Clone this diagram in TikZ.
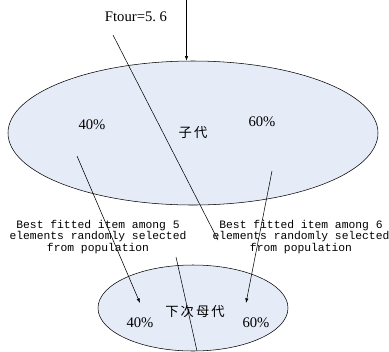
\documentclass[tikz,border=0pt]{standalone}
\usepackage{fontspec}
\setmainfont{Liberation Serif}
\setmonofont{Liberation Mono}
\newfontfamily\cjk[LetterSpace=15]{Noto Sans CJK SC}
\usetikzlibrary{shapes.geometric,arrows.meta}
\definecolor{paleblue}{HTML}{E6ECF7}
\tikzset{
  pool/.style={ellipse,draw,fill=paleblue,inner sep=0pt},
  rate/.style={font=\fontsize{11}{13}\selectfont},
  note/.style={align=center,inner sep=0pt,font=\ttfamily\fontsize{8.5}{8.7}\selectfont},
  pick/.style={-{Latex[length=3.5pt,width=2.5pt]}}
}

\begin{document}
\begin{tikzpicture}[x=0.75pt,y=-0.75pt]
        \useasboundingbox (0,0) rectangle (389,351);
        % populations
        \node[pool,minimum width=277.5pt,minimum height=108pt] (kid) at (193,133) {};
        \node[pool,minimum width=142.5pt,minimum height=64.5pt] (next) at (193,308) {};
        \node[font=\cjk\fontsize{10}{12}\selectfont] (kidlbl) at (193,133) {子代};
        \node[font=\cjk\fontsize{10}{12}\selectfont] (nextlbl) at (195,311) {下次母代};
        \node[rate] (kidl) at (92,125) {40\%};
        \node[rate] (kidr) at (262,122) {60\%};
        \node[rate] (nextl) at (140,323) {40\%};
        \node[rate] (nextr) at (256,323) {60\%};
        \node[rate] (ftour) at (136,17) {Ftour=5.\ 6};
        \node[note] (left) at (98,237) {Best fitted item among 5\\elements randomly selected\\from population};
        \node[note] (right) at (301,237) {Best fitted item among 6\\elements randomly selected\\from population};
        % connectors
        \coordinate (src) at (186.5,0);
        \coordinate (a1) at (113,35);
        \coordinate (a2) at (218,240);
        \coordinate (b1) at (77,156);
        \coordinate (b2) at (140,303);
        \coordinate (c1) at (272,171);
        \coordinate (c2) at (246,303);
        \coordinate (d1) at (176,257);
        \coordinate (d2) at (197,351);
        \draw[pick] (src) -- (src |- kid.north);
        \draw (a1) -- (a2);
        \draw[pick] (b1) -- (b2);
        \draw[pick] (c1) -- (c2);
        \draw (d1) -- (d2);
    \end{tikzpicture}
\end{document}
